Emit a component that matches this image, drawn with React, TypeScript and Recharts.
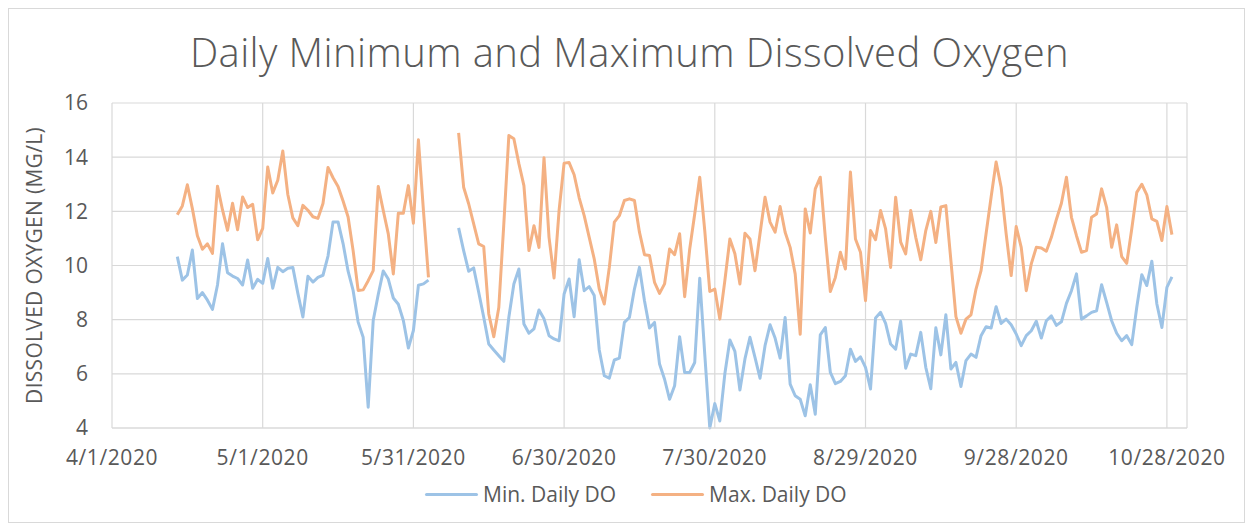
import React from "react";
import {
  LineChart,
  Line,
  XAxis,
  YAxis,
  CartesianGrid,
  Legend,
} from "recharts";

// x axis: date labels every 30 days, axis runs to 11/1/2020
const tickLabels = [
  "4/1/2020",
  "5/1/2020",
  "5/31/2020",
  "6/30/2020",
  "7/30/2020",
  "8/29/2020",
  "9/28/2020",
  "10/28/2020",
];
const axisEnd = "11/1/2020";
const yTicks = [4, 6, 8, 10, 12, 14, 16];

// daily readings starting 4/14/2020, null = no data (6/4 - 6/8)
const firstDate = "4/14/2020";

const minDO = [
  10.33, 9.46, 9.65, 10.57, 8.78, 9.0, 8.72, 8.38, 9.28, 10.8,
  9.73, 9.61, 9.52, 9.28, 10.2, 9.16, 9.49, 9.34, 10.26, 9.16,
  9.93, 9.77, 9.9, 9.93, 8.97, 8.1, 9.6, 9.39, 9.56, 9.64,
  10.35, 11.61, 11.61, 10.81, 9.79, 9.08, 7.91, 7.35, 4.77, 7.97,
  8.93, 9.8, 9.5, 8.8, 8.57, 7.97, 6.95, 7.6, 9.27, 9.32,
  9.46,
  null, null, null, null, null,
  11.39, 10.55, 9.79, 9.91, 9.01, 8.09, 7.1, 6.88, 6.67, 6.46,
  8.09, 9.32, 9.87, 7.84, 7.5, 7.66, 8.36, 8.03, 7.41, 7.29,
  7.22, 8.95, 9.5, 8.11, 10.21, 9.07, 9.22, 8.89, 6.88, 5.93,
  5.84, 6.51, 6.58, 7.9, 8.08, 9.13, 9.93, 8.7, 7.69, 7.9,
  6.36, 5.8, 5.06, 5.56, 7.37, 6.05, 6.05, 6.42, 9.53, 6.73,
  4.0, 4.9, 4.26, 6.0, 7.25, 6.83, 5.4, 6.55, 7.35, 6.61,
  5.84, 7.04, 7.81, 7.32, 6.58, 8.08, 5.62, 5.19, 5.06, 4.45,
  5.6, 4.51, 7.44, 7.71, 6.05, 5.64, 5.72, 5.93, 6.91, 6.46,
  6.63, 6.24, 5.44, 8.06, 8.27, 7.86, 7.1, 6.91, 7.94, 6.21,
  6.73, 6.67, 7.53, 6.24, 5.45, 7.7, 6.7, 8.18, 6.18, 6.42,
  5.53, 6.49, 6.73, 6.61, 7.41, 7.74, 7.69, 8.48, 7.86, 8.02,
  7.81, 7.47, 7.04, 7.41, 7.59, 7.94, 7.32, 7.96, 8.14, 7.79,
  7.92, 8.6, 9.07, 9.69, 8.02, 8.14, 8.27, 8.33, 9.29, 8.64,
  7.96, 7.5, 7.22, 7.41, 7.08, 8.46, 9.66, 9.26, 10.16, 8.58,
  7.71, 9.19, 9.58,
];

const maxDO = [
  11.87, 12.2, 12.98, 12.1, 11.1, 10.6, 10.8, 10.45, 12.93, 12.05,
  11.3, 12.3, 11.32, 12.53, 12.14, 12.26, 10.95, 11.37, 13.64, 12.68,
  13.15, 14.23, 12.62, 11.76, 11.47, 12.22, 12.04, 11.8, 11.74, 12.29,
  13.62, 13.24, 12.92, 12.38, 11.79, 10.55, 9.08, 9.1, 9.44, 9.81,
  12.92, 12.03, 11.17, 9.69, 11.93, 11.93, 12.95, 11.56, 14.64, 12.03,
  9.56,
  null, null, null, null, null,
  14.9, 12.89, 12.28, 11.54, 10.8, 10.7, 8.21, 7.37, 8.45, 11.54,
  14.8, 14.68, 13.76, 12.95, 10.55, 11.47, 10.67, 13.98, 11.04, 9.54,
  12.03, 13.78, 13.8, 13.35, 12.5, 11.84, 11.04, 10.24, 9.13, 8.58,
  9.93, 11.6, 11.84, 12.4, 12.46, 12.4, 11.23, 10.4, 10.37, 9.38,
  8.97, 9.32, 10.61, 10.4, 11.17, 8.85, 10.6, 11.9, 13.26, 11.29,
  9.04, 9.13, 8.02, 9.44, 10.98, 10.43, 9.32, 11.19, 10.98, 9.81,
  11.17, 12.52, 11.6, 11.23, 12.18, 11.23, 10.67, 9.69, 7.46, 12.09,
  11.2, 12.83, 13.26, 11.04, 9.04, 9.56, 10.49, 9.87, 13.45, 10.98,
  10.49, 8.7, 11.29, 10.95, 12.03, 11.35, 9.93, 12.52, 10.86, 10.43,
  12.03, 11.04, 10.21, 11.29, 12.0, 10.85, 12.16, 12.21, 10.18, 8.11,
  7.5, 8.02, 8.18, 9.13, 9.81, 11.17, 12.52, 13.82, 12.89, 11.17,
  9.63, 11.44, 10.67, 9.07, 10.06, 10.67, 10.65, 10.53, 11.04, 11.7,
  12.3, 13.26, 11.78, 11.1, 10.49, 10.55, 11.78, 11.9, 12.83, 12.15,
  10.67, 11.5, 10.33, 10.08, 11.35, 12.7, 13.0, 12.61, 11.72, 11.63,
  10.92, 12.18, 11.14,
];

const DAY_MS = 86400000;
const parseDate = (s: string) => {
  const [m, d, y] = s.split("/").map(Number);
  return Date.UTC(y, m - 1, d);
};
const origin = parseDate(tickLabels[0]);
const toDay = (s: string) => Math.round((parseDate(s) - origin) / DAY_MS);
const fmtDay = (day: number) => {
  const dt = new Date(origin + day * DAY_MS);
  return `${dt.getUTCMonth() + 1}/${dt.getUTCDate()}/${dt.getUTCFullYear()}`;
};

const xTicks = tickLabels.map(toDay);
const start = toDay(firstDate);
const data = minDO.map((v, i) => ({ day: start + i, min: v, max: maxDO[i] }));

const BLUE = "#9DC3E6";
const ORANGE = "#F4B183";
const TEXT = "#595959";
const FONT = "'Open Sans', 'Noto Sans', sans-serif";

function LegendContent() {
  const items = [
    { name: "Min. Daily DO", color: BLUE },
    { name: "Max. Daily DO", color: ORANGE },
  ];
  return (
    <div style={{ display: "flex", alignItems: "center", height: 24 }}>
      {items.map((it) => (
        <div key={it.name} style={{ display: "flex", alignItems: "center", marginRight: 35 }}>
          <div style={{ width: 53, height: 3, borderRadius: 2, background: it.color, marginRight: 5 }} />
          <span style={{ fontSize: 21, color: TEXT, lineHeight: "24px", fontFamily: FONT }}>{it.name}</span>
        </div>
      ))}
    </div>
  );
}

export default function App() {
  return (
    <div
      style={{
        position: "relative",
        width: 1237,
        height: 515,
        border: "1px solid #d9d9d9",
        boxSizing: "border-box",
        background: "#fff",
        fontFamily: FONT,
      }}
    >
      <div
        style={{
          position: "absolute",
          top: 23,
          left: 3,
          width: "100%",
          textAlign: "center",
          fontSize: 40,
          lineHeight: "40px",
          fontWeight: 300,
          letterSpacing: 0.4,
          color: TEXT,
        }}
      >
        Daily Minimum and Maximum Dissolved Oxygen
      </div>
      <LineChart
        width={1235}
        height={513}
        data={data}
        margin={{ top: 94, right: 57, bottom: 54, left: 43 }}
      >
        <CartesianGrid stroke="#d9d9d9" strokeWidth={1.2} />
        <XAxis
          dataKey="day"
          type="number"
          domain={[0, toDay(axisEnd)]}
          ticks={xTicks}
          interval={0}
          tickFormatter={fmtDay}
          height={40}
          tickLine={false}
          tickSize={0}
          tickMargin={22}
          axisLine={{ stroke: "#d9d9d9", strokeWidth: 1.2 }}
          tick={{ fill: TEXT, fontSize: 21, fontFamily: FONT, letterSpacing: 0.6 }}
        />
        <YAxis
          type="number"
          domain={[4, 16]}
          ticks={yTicks}
          interval={0}
          width={60}
          tickLine={false}
          tickSize={0}
          tickMargin={24}
          axisLine={false}
          tick={{ fill: TEXT, fontSize: 21, fontFamily: FONT }}
          label={(props: any) => {
            const vb = props.viewBox || { y: 94, height: 325 };
            const cx = 24.5;
            const cy = vb.y + vb.height / 2;
            return (
              <text
                x={cx}
                y={cy}
                transform={`rotate(-90 ${cx} ${cy})`}
                textAnchor="middle"
                dominantBaseline="central"
                fill={TEXT}
                fontSize={21}
                letterSpacing={0.3}
                fontFamily={FONT}
              >
                DISSOLVED OXYGEN (MG/L)
              </text>
            );
          }}
        />
        <Legend
          layout="horizontal"
          verticalAlign="middle"
          align="center"
          wrapperStyle={{ top: 473, left: 416, width: "auto" }}
          content={() => <LegendContent />}
        />
        <Line
          type="linear"
          dataKey="min"
          name="Min. Daily DO"
          stroke={BLUE}
          strokeWidth={3}
          dot={false}
          activeDot={false}
          strokeLinejoin="round"
          isAnimationActive={false}
        />
        <Line
          type="linear"
          dataKey="max"
          name="Max. Daily DO"
          stroke={ORANGE}
          strokeWidth={3}
          dot={false}
          activeDot={false}
          strokeLinejoin="round"
          isAnimationActive={false}
        />
      </LineChart>
    </div>
  );
}
